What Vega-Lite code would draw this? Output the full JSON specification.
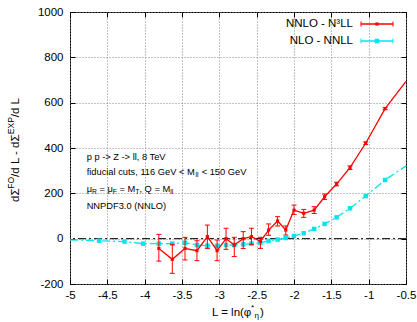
{
  "$schema": "https://vega.github.io/schema/vega-lite/v6.json",
  "width": 336,
  "height": 272,
  "autosize": {"type": "none"},
  "padding": {"left": 70, "top": 12, "right": 11, "bottom": 38},
  "background": "white",
  "config": {
    "view": {"stroke": "#000", "strokeWidth": 1},
    "font": "Liberation Sans",
    "axis": {"labelFont": "Liberation Sans", "labelFontSize": 11.5, "labelColor": "#000", "tickColor": "#000", "tickWidth": 1, "domain": false}
  },
  "resolve": {"axis": {"x": "independent", "y": "independent"}},
  "datasets": {
    "red": [
      {"L": -3.81, "v": -43, "lo": -99, "hi": 19},
      {"L": -3.63, "v": -91, "lo": -153, "hi": -25},
      {"L": -3.46, "v": -43, "lo": -94, "hi": 6},
      {"L": -3.30, "v": -53, "lo": -97, "hi": -9},
      {"L": -3.16, "v": 9, "lo": -43, "hi": 60},
      {"L": -3.03, "v": -53, "lo": -97, "hi": -6},
      {"L": -2.91, "v": 0, "lo": -47, "hi": 46},
      {"L": -2.80, "v": -28, "lo": -79, "hi": 6},
      {"L": -2.68, "v": 0, "lo": -43, "hi": 31},
      {"L": -2.57, "v": 9, "lo": -25, "hi": 46},
      {"L": -2.45, "v": -12, "lo": -43, "hi": 6},
      {"L": -2.34, "v": 38, "lo": 15, "hi": 65},
      {"L": -2.22, "v": 78, "lo": 56, "hi": 97},
      {"L": -2.11, "v": 38, "lo": 16, "hi": 56},
      {"L": -2.00, "v": 126, "lo": 107, "hi": 148},
      {"L": -1.87, "v": 112, "lo": 94, "hi": 129},
      {"L": -1.73, "v": 126, "lo": 111, "hi": 141},
      {"L": -1.59, "v": 185, "lo": 173, "hi": 197},
      {"L": -1.43, "v": 241, "lo": 233, "hi": 249},
      {"L": -1.25, "v": 313, "lo": 305, "hi": 321},
      {"L": -1.04, "v": 421, "lo": 415, "hi": 427},
      {"L": -0.78, "v": 574, "lo": 569, "hi": 579},
      {"L": -0.5, "v": 694, "lo": 694, "hi": 694}
    ],
    "cyan": [
      {"L": -5, "v": -5}, {"L": -4.61, "v": -9}, {"L": -4.27, "v": -13}, {"L": -4.02, "v": -22},
      {"L": -3.81, "v": -22}, {"L": -3.63, "v": -22}, {"L": -3.46, "v": -18}, {"L": -3.30, "v": -28},
      {"L": -3.16, "v": -31}, {"L": -3.03, "v": -31}, {"L": -2.91, "v": -28}, {"L": -2.80, "v": -28},
      {"L": -2.68, "v": -25}, {"L": -2.57, "v": -22}, {"L": -2.45, "v": -19}, {"L": -2.34, "v": -10},
      {"L": -2.22, "v": -4}, {"L": -2.11, "v": 3}, {"L": -2.00, "v": 12}, {"L": -1.87, "v": 24},
      {"L": -1.73, "v": 43}, {"L": -1.59, "v": 65}, {"L": -1.43, "v": 94}, {"L": -1.25, "v": 134},
      {"L": -1.04, "v": 188}, {"L": -0.78, "v": 259}, {"L": -0.5, "v": 321}
    ],
    "notes_main": [
      {"L": -4.777, "v": 362, "t": "p p -> Z -> ll, 8 TeV"},
      {"L": -4.777, "v": 293, "t": "fiducial cuts, 116 GeV < M"},
      {"L": -3.237, "v": 293, "t": "< 150 GeV"},
      {"L": -4.777, "v": 218, "t": "μ"},
      {"L": -4.6055, "v": 218, "t": "= μ"},
      {"L": -4.337, "v": 218, "t": "= M"},
      {"L": -4.070, "v": 218, "t": ", Q = M"},
      {"L": -4.777, "v": 146, "t": "NNPDF3.0 (NNLO)"}
    ],
    "notes_sub": [
      {"L": -3.320, "v": 293, "t": "ll"},
      {"L": -4.705, "v": 218, "t": "R"},
      {"L": -4.427, "v": 218, "t": "F"},
      {"L": -4.125, "v": 218, "t": "T"},
      {"L": -3.658, "v": 218, "t": "ll"}
    ],
    "legend_text": [
      {"L": -1.21, "v": 947, "t": "NNLO - N³LL"},
      {"L": -1.21, "v": 872, "t": "NLO - NNLL"}
    ],
    "legend_lines": [
      {"s": "NNLO", "L": -1.103, "L2": -0.674, "v": 947},
      {"s": "NLO", "L": -1.103, "L2": -0.674, "v": 872}
    ],
    "legend_caps": [
      {"s": "NNLO", "L": -1.103, "v": 947}, {"s": "NNLO", "L": -0.674, "v": 947},
      {"s": "NLO", "L": -1.103, "v": 872}, {"s": "NLO", "L": -0.674, "v": 872}
    ],
    "legend_marks": [
      {"s": "NNLO", "L": -0.889, "v": 947},
      {"s": "NLO", "L": -0.889, "v": 872}
    ],
    "xtitle_main": [
      {"L": -3.098, "v": -328, "t": "L = ln(φ"},
      {"L": -2.456, "v": -328, "t": ")"}
    ],
    "xtitle_sup": [{"L": -2.576, "v": -328, "t": "*"}],
    "xtitle_sub": [{"L": -2.529, "v": -328, "t": "η"}],
    "ytitle_main": [
      {"L": -5.723, "v": 161.8, "t": "dΣ"},
      {"L": -5.723, "v": 272.5, "t": "/d L - dΣ"},
      {"L": -5.723, "v": 535.9, "t": "/d L"}
    ],
    "ytitle_sup": [
      {"L": -5.723, "v": 220.4, "t": "FO"},
      {"L": -5.723, "v": 460.9, "t": "EXP"}
    ]
  },
  "layer": [
    {
      "data": {"values": [{"v": 0}]},
      "mark": {"type": "rule", "color": "#000", "strokeWidth": 1, "strokeDash": [8, 3, 2, 3]},
      "encoding": {
        "y": {"field": "v", "type": "quantitative", "scale": {"domain": [-200, 1000], "nice": false, "zero": false}, "axis": null}
      }
    },
    {
      "data": {"name": "cyan"},
      "mark": {"type": "line", "color": "#00e5ee", "strokeWidth": 1.3, "strokeDash": [8, 3, 2, 3]},
      "encoding": {
        "x": {"field": "L", "type": "quantitative", "scale": {"domain": [-5, -0.5], "nice": false, "zero": false},
          "axis": {"orient": "bottom", "values": [-5, -4.5, -4, -3.5, -3, -2.5, -2, -1.5, -1, -0.5], "format": ".1~f",
            "labelExpr": "replace(datum.label, '\u2212', '-')", "labelFlush": false, "labelOverlap": false,
            "grid": true, "gridColor": "#888", "gridDash": [1, 2], "tickSize": -5, "labelPadding": 10, "title": null}},
        "y": {"field": "v", "type": "quantitative", "scale": {"domain": [-200, 1000], "nice": false, "zero": false},
          "axis": {"orient": "left", "values": [-200, 0, 200, 400, 600, 800, 1000], "format": "d",
            "labelExpr": "replace(datum.label, '\u2212', '-')", "labelFlush": false, "labelOverlap": false,
            "grid": true, "gridColor": "#888", "gridDash": [1, 2], "tickSize": -5, "labelPadding": 12, "title": null}}
      }
    },
    {
      "data": {"name": "cyan"},
      "transform": [{"filter": "datum.L > -4.9 && datum.L < -0.6"}],
      "mark": {"type": "square", "color": "#00e5ee", "filled": true, "opacity": 1, "size": 20},
      "encoding": {
        "x": {"field": "L", "type": "quantitative", "scale": {"domain": [-5, -0.5], "nice": false, "zero": false}, "axis": null},
        "y": {"field": "v", "type": "quantitative", "scale": {"domain": [-200, 1000], "nice": false, "zero": false}, "axis": null}
      }
    },
    {
      "data": {"name": "red"},
      "transform": [{"filter": "datum.L < -0.6"}],
      "mark": {"type": "rule", "color": "#ff0000", "strokeWidth": 1},
      "encoding": {
        "x": {"field": "L", "type": "quantitative", "scale": {"domain": [-5, -0.5], "nice": false, "zero": false}, "axis": null},
        "y": {"field": "lo", "type": "quantitative", "scale": {"domain": [-200, 1000], "nice": false, "zero": false}, "axis": null},
        "y2": {"field": "hi"}
      }
    },
    {
      "data": {"name": "red"},
      "transform": [{"filter": "datum.L < -0.6"}],
      "mark": {"type": "tick", "orient": "horizontal", "color": "#ff0000", "size": 5, "thickness": 1, "opacity": 1},
      "encoding": {
        "x": {"field": "L", "type": "quantitative", "scale": {"domain": [-5, -0.5], "nice": false, "zero": false}, "axis": null},
        "y": {"field": "lo", "type": "quantitative", "scale": {"domain": [-200, 1000], "nice": false, "zero": false}, "axis": null}
      }
    },
    {
      "data": {"name": "red"},
      "transform": [{"filter": "datum.L < -0.6"}],
      "mark": {"type": "tick", "orient": "horizontal", "color": "#ff0000", "size": 5, "thickness": 1, "opacity": 1},
      "encoding": {
        "x": {"field": "L", "type": "quantitative", "scale": {"domain": [-5, -0.5], "nice": false, "zero": false}, "axis": null},
        "y": {"field": "hi", "type": "quantitative", "scale": {"domain": [-200, 1000], "nice": false, "zero": false}, "axis": null}
      }
    },
    {
      "data": {"name": "red"},
      "mark": {"type": "line", "color": "#ff0000", "strokeWidth": 1.3},
      "encoding": {
        "x": {"field": "L", "type": "quantitative", "scale": {"domain": [-5, -0.5], "nice": false, "zero": false},
          "axis": {"orient": "top", "values": [-5, -4.5, -4, -3.5, -3, -2.5, -2, -1.5, -1, -0.5], "labels": false,
            "grid": false, "tickSize": -5, "title": null}},
        "y": {"field": "v", "type": "quantitative", "scale": {"domain": [-200, 1000], "nice": false, "zero": false},
          "axis": {"orient": "right", "values": [-200, 0, 200, 400, 600, 800, 1000], "labels": false,
            "grid": false, "tickSize": -5, "title": null}}
      }
    },
    {
      "data": {"name": "red"},
      "transform": [{"filter": "datum.L < -0.6"}],
      "mark": {"type": "square", "color": "#ff0000", "filled": true, "opacity": 1, "size": 10},
      "encoding": {
        "x": {"field": "L", "type": "quantitative", "scale": {"domain": [-5, -0.5], "nice": false, "zero": false}, "axis": null},
        "y": {"field": "v", "type": "quantitative", "scale": {"domain": [-200, 1000], "nice": false, "zero": false}, "axis": null}
      }
    },
    {
      "data": {"name": "legend_lines"},
      "mark": {"type": "rule", "strokeWidth": 1.3},
      "encoding": {
        "x": {"field": "L", "type": "quantitative", "scale": {"domain": [-5, -0.5], "nice": false, "zero": false}, "axis": null},
        "x2": {"field": "L2"},
        "y": {"field": "v", "type": "quantitative", "scale": {"domain": [-200, 1000], "nice": false, "zero": false}, "axis": null},
        "color": {"field": "s", "type": "nominal", "scale": {"domain": ["NNLO", "NLO"], "range": ["#ff0000", "#00e5ee"]}, "legend": null}
      }
    },
    {
      "data": {"name": "legend_caps"},
      "mark": {"type": "tick", "orient": "vertical", "size": 5, "thickness": 1, "opacity": 1},
      "encoding": {
        "x": {"field": "L", "type": "quantitative", "scale": {"domain": [-5, -0.5], "nice": false, "zero": false}, "axis": null},
        "y": {"field": "v", "type": "quantitative", "scale": {"domain": [-200, 1000], "nice": false, "zero": false}, "axis": null},
        "color": {"field": "s", "type": "nominal", "scale": {"domain": ["NNLO", "NLO"], "range": ["#ff0000", "#00e5ee"]}, "legend": null}
      }
    },
    {
      "data": {"name": "legend_marks"},
      "mark": {"type": "square", "filled": true, "opacity": 1},
      "encoding": {
        "x": {"field": "L", "type": "quantitative", "scale": {"domain": [-5, -0.5], "nice": false, "zero": false}, "axis": null},
        "y": {"field": "v", "type": "quantitative", "scale": {"domain": [-200, 1000], "nice": false, "zero": false}, "axis": null},
        "color": {"field": "s", "type": "nominal", "scale": {"domain": ["NNLO", "NLO"], "range": ["#ff0000", "#00e5ee"]}, "legend": null},
        "size": {"field": "s", "type": "ordinal", "scale": {"domain": ["NNLO", "NLO"], "range": [10, 20]}, "legend": null}
      }
    },
    {
      "data": {"name": "legend_text"},
      "mark": {"type": "text", "align": "right", "baseline": "middle", "fontSize": 11.5, "color": "#000"},
      "encoding": {
        "x": {"field": "L", "type": "quantitative", "scale": {"domain": [-5, -0.5], "nice": false, "zero": false}, "axis": null},
        "y": {"field": "v", "type": "quantitative", "scale": {"domain": [-200, 1000], "nice": false, "zero": false}, "axis": null},
        "text": {"field": "t"}
      }
    },
    {
      "data": {"name": "notes_main"},
      "mark": {"type": "text", "align": "left", "baseline": "middle", "fontSize": 9.3, "color": "#000"},
      "encoding": {
        "x": {"field": "L", "type": "quantitative", "scale": {"domain": [-5, -0.5], "nice": false, "zero": false}, "axis": null},
        "y": {"field": "v", "type": "quantitative", "scale": {"domain": [-200, 1000], "nice": false, "zero": false}, "axis": null},
        "text": {"field": "t"}
      }
    },
    {
      "data": {"name": "notes_sub"},
      "mark": {"type": "text", "align": "left", "baseline": "middle", "fontSize": 6.8, "dy": 2.5, "color": "#000"},
      "encoding": {
        "x": {"field": "L", "type": "quantitative", "scale": {"domain": [-5, -0.5], "nice": false, "zero": false}, "axis": null},
        "y": {"field": "v", "type": "quantitative", "scale": {"domain": [-200, 1000], "nice": false, "zero": false}, "axis": null},
        "text": {"field": "t"}
      }
    },
    {
      "data": {"name": "xtitle_main"},
      "mark": {"type": "text", "align": "left", "baseline": "middle", "fontSize": 11.5, "color": "#000"},
      "encoding": {
        "x": {"field": "L", "type": "quantitative", "scale": {"domain": [-5, -0.5], "nice": false, "zero": false}, "axis": null},
        "y": {"field": "v", "type": "quantitative", "scale": {"domain": [-200, 1000], "nice": false, "zero": false}, "axis": null},
        "text": {"field": "t"}
      }
    },
    {
      "data": {"name": "xtitle_sup"},
      "mark": {"type": "text", "align": "left", "baseline": "middle", "fontSize": 8, "dy": -5, "color": "#000"},
      "encoding": {
        "x": {"field": "L", "type": "quantitative", "scale": {"domain": [-5, -0.5], "nice": false, "zero": false}, "axis": null},
        "y": {"field": "v", "type": "quantitative", "scale": {"domain": [-200, 1000], "nice": false, "zero": false}, "axis": null},
        "text": {"field": "t"}
      }
    },
    {
      "data": {"name": "xtitle_sub"},
      "mark": {"type": "text", "align": "left", "baseline": "middle", "fontSize": 8, "dy": 3, "color": "#000"},
      "encoding": {
        "x": {"field": "L", "type": "quantitative", "scale": {"domain": [-5, -0.5], "nice": false, "zero": false}, "axis": null},
        "y": {"field": "v", "type": "quantitative", "scale": {"domain": [-200, 1000], "nice": false, "zero": false}, "axis": null},
        "text": {"field": "t"}
      }
    },
    {
      "data": {"name": "ytitle_main"},
      "mark": {"type": "text", "align": "left", "baseline": "middle", "fontSize": 11.5, "angle": 270, "color": "#000"},
      "encoding": {
        "x": {"field": "L", "type": "quantitative", "scale": {"domain": [-5, -0.5], "nice": false, "zero": false}, "axis": null},
        "y": {"field": "v", "type": "quantitative", "scale": {"domain": [-200, 1000], "nice": false, "zero": false}, "axis": null},
        "text": {"field": "t"}
      }
    },
    {
      "data": {"name": "ytitle_sup"},
      "mark": {"type": "text", "align": "left", "baseline": "middle", "fontSize": 8.5, "angle": 270, "dy": -5, "color": "#000"},
      "encoding": {
        "x": {"field": "L", "type": "quantitative", "scale": {"domain": [-5, -0.5], "nice": false, "zero": false}, "axis": null},
        "y": {"field": "v", "type": "quantitative", "scale": {"domain": [-200, 1000], "nice": false, "zero": false}, "axis": null},
        "text": {"field": "t"}
      }
    }
  ]
}
